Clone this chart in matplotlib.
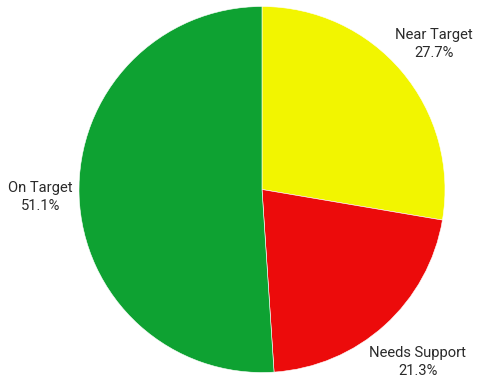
import numpy as np
import matplotlib.pyplot as plt

categories = ["Near Target", "Needs Support", "On Target"]
shares = [27.7, 21.3, 51.1]
colors = ["#F2F500", "#EC0B0B", "#0EA232"]
label_dist = [1.23, 1.27, 1.21]

plt.rcParams['font.family'] = ['Roboto', 'DejaVu Sans']

fig = plt.figure(figsize=(4.78, 3.82), dpi=100)
W, H = 478, 382
cx, cy, r = 262, 189.5, 183
ax = fig.add_axes([(cx - r) / W, (H - cy - r) / H, 2 * r / W, 2 * r / H])

wedges, _ = ax.pie(shares, colors=colors, startangle=90, counterclock=False,
                   radius=1.0, wedgeprops=dict(edgecolor="white", linewidth=0.4))
ax.set_xlim(-1, 1)
ax.set_ylim(-1, 1)
ax.set_aspect('equal')
ax.axis('off')

for w, name, val, d in zip(wedges, categories, shares, label_dist):
    ang = np.deg2rad((w.theta1 + w.theta2) / 2)
    x, y = d * np.cos(ang), d * np.sin(ang)
    ax.text(x, y, f"{name}\n{val:.1f}%", ha="center", va="center",
            fontsize=10.6, color="#2a2a2a", linespacing=1.4, clip_on=False)

fig.savefig("out.png", dpi=100)
